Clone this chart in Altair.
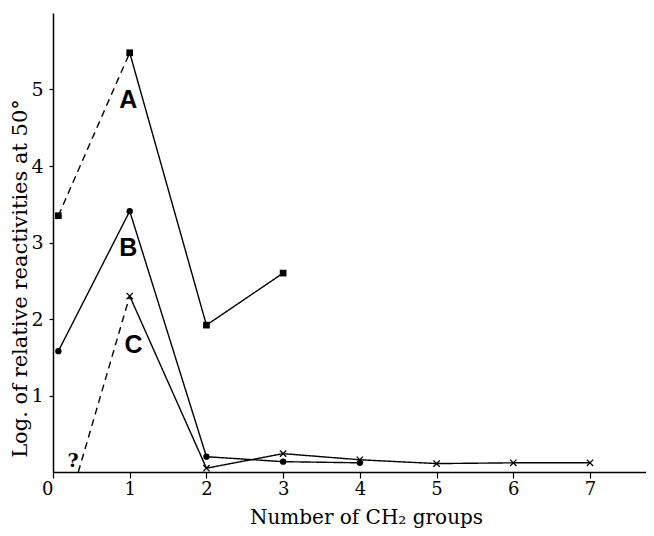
import altair as alt
import pandas as pd

# ---- data ----
xA = [0.07, 1, 2, 3]
yA = [3.35, 5.48, 1.92, 2.60]
xB = [0.07, 1, 2, 3, 4]
yB = [1.58, 3.41, 0.20, 0.135, 0.12]
xC = [1, 2, 3, 4, 5, 6, 7]
yC = [2.30, 0.05, 0.24, 0.16, 0.11, 0.12, 0.12]
# dashed extrapolation of C toward the axis
xC_ext = [0.33, 1]
yC_ext = [0.0, 2.30]

x_ticks = [0, 1, 2, 3, 4, 5, 6, 7]
y_ticks = [1, 2, 3, 4, 5]

curve_labels = ["A", "B", "C"]
label_x = [0.98, 0.98, 1.05]
label_y = [4.86, 2.93, 1.66]

q_label = ["?"]
q_x = [0.26]
q_y = [0.15]

# ---- build tables ----
rows = []
def add(seg, dash, xs, ys):
    for i, (a, b) in enumerate(zip(xs, ys)):
        rows.append({"seg": seg, "dash": dash, "x": a, "y": b, "o": i})

add("A_dash", "dashed", xA[:2], yA[:2])
add("A_solid", "solid", xA[1:], yA[1:])
add("B", "solid", xB, yB)
add("C_dash", "dashed", xC_ext, yC_ext)
add("C_solid", "solid", xC, yC)
lines_df = pd.DataFrame(rows)

ptsA = pd.DataFrame({"x": xA, "y": yA})
ptsB = pd.DataFrame({"x": xB, "y": yB})
ptsC = pd.DataFrame({"x": xC, "y": yC})
lab_df = pd.DataFrame({"t": curve_labels, "x": label_x, "y": label_y})
q_df = pd.DataFrame({"t": q_label, "x": q_x, "y": q_y})

SERIF = "DejaVu Serif"

xscale = alt.Scale(domain=[0, 7.73], nice=False, zero=False)
yscale = alt.Scale(domain=[0, 6], nice=False, zero=False)

xaxis = alt.Axis(
    values=x_ticks, format="d", title="Number of CH₂ groups", grid=False,
    labelFont=SERIF, labelFontSize=18, labelColor="black", labelPadding=2,
    labelAlign=alt.ExprRef("datum.value == 0 ? 'right' : 'center'"),
    titleFont=SERIF, titleFontSize=20, titleFontWeight="normal", titleColor="black",
    titleX=313, titleY=51, titleBaseline="alphabetic", titleAlign="center",
    tickSize=6, tickColor="black", domainColor="black", domainWidth=1.5, tickWidth=1.2,
)
yaxis = alt.Axis(
    values=y_ticks, format="d", title="Log. of relative reactivities at 50°", grid=False,
    labelFont=SERIF, labelFontSize=19, labelColor="black", labelAngle=0,
    labelPadding=6,
    titleFont=SERIF, titleFontSize=21, titleFontWeight="normal", titleColor="black",
    titleAngle=270, titleX=-33, titleY=265, titleBaseline="middle", titleAlign="center",
    tickSize=4, tickColor="black", domainColor="black", domainWidth=1.5, tickWidth=1.2,
)

X = alt.X("x:Q", scale=xscale, axis=xaxis)
Y = alt.Y("y:Q", scale=yscale, axis=yaxis)

lines = alt.Chart(lines_df).mark_line(color="black", strokeWidth=1.4).encode(
    x=X, y=Y, detail="seg:N", order="o:Q",
    strokeDash=alt.StrokeDash("dash:N", scale=alt.Scale(domain=["solid", "dashed"], range=[[1, 0], [7, 5]]), legend=None),
)

mA = alt.Chart(ptsA).mark_point(shape="square", filled=True, color="black", size=45, opacity=1).encode(x="x:Q", y="y:Q")
mB = alt.Chart(ptsB).mark_point(shape="circle", filled=True, color="black", size=40, opacity=1).encode(x="x:Q", y="y:Q")
mC = alt.Chart(ptsC).mark_point(shape="M-1,-1L1,1M-1,1L1,-1", filled=False, color="black", size=40, strokeWidth=1.3, opacity=1).encode(x="x:Q", y="y:Q")

labs = alt.Chart(lab_df).mark_text(font="Liberation Sans", fontSize=25, fontWeight="bold", color="black").encode(
    x="x:Q", y="y:Q", text="t:N")
qm = alt.Chart(q_df).mark_text(font=SERIF, fontSize=19, fontWeight="bold", color="black").encode(
    x="x:Q", y="y:Q", text="t:N")

chart = alt.layer(lines, mA, mB, mC, labs, qm).properties(
    width=593, height=459,
    autosize=alt.AutoSizeParams(type="none"),
    padding={"left": 45, "top": 5, "right": 0, "bottom": 56},
    background="white",
).configure_view(stroke=None)

chart.save("out.html", embed_options={"renderer": "svg", "actions": False})
